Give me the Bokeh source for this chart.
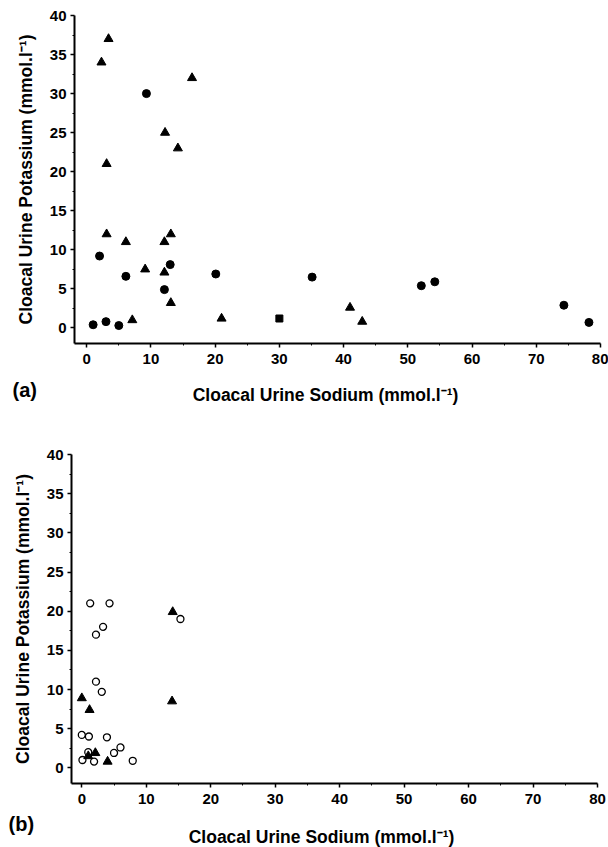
from bokeh.plotting import figure
from bokeh.layouts import column
from bokeh.models import Range1d, FixedTicker
from bokeh.core.properties import value
from bokeh.embed import file_html
from bokeh.resources import INLINE

# ---------------- data ----------------
# Panel (a)
a_circle_x = [9.3, 2.0, 13.0, 6.1, 20.1, 12.1, 1.0, 3.0, 5.0, 35.1, 52.1, 54.2, 74.3, 78.2]
a_circle_y = [30.0, 9.2, 8.1, 6.6, 6.9, 4.9, 0.4, 0.8, 0.3, 6.5, 5.4, 5.9, 2.9, 0.7]
a_tri_x = [3.4, 2.3, 16.4, 12.2, 14.2, 3.1, 3.1, 6.1, 12.1, 13.1, 9.1, 12.1, 13.1, 7.1, 21.0, 41.0, 42.9]
a_tri_y = [37.0, 34.0, 32.0, 25.0, 23.0, 21.0, 12.0, 11.0, 11.0, 12.0, 7.5, 7.1, 3.2, 1.0, 1.2, 2.6, 0.8]
a_square_x = [30.0]
a_square_y = [1.2]

# Panel (b)
b_open_x = [1.3, 4.3, 15.3, 3.3, 2.2, 2.2, 3.1, 0.0, 1.1, 3.9, 6.0, 5.0, 1.0, 0.1, 1.9, 7.9]
b_open_y = [21.0, 21.0, 19.0, 18.0, 17.0, 11.0, 9.7, 4.2, 4.0, 3.9, 2.6, 1.9, 2.0, 1.0, 0.8, 0.9]
b_tri_x = [14.1, 0.0, 1.2, 14.0, 1.0, 2.1, 4.0]
b_tri_y = [19.9, 8.9, 7.4, 8.5, 1.5, 1.9, 0.8]

x_ticks = [0, 10, 20, 30, 40, 50, 60, 70, 80]
y_ticks = [0, 5, 10, 15, 20, 25, 30, 35, 40]

x_title = "Cloacal Urine Sodium (mmol.l\u207b\u00b9)"
y_title = "Cloacal Urine Potassium (mmol.l\u207b\u00b9)"
panel_tags = ["(a)", "(b)"]

FONT = "Liberation Sans"
W = 608


def make_panel(height, left, right, top, bottom, x_start):
    p = figure(width=W, height=height, output_backend="svg", toolbar_location=None,
               x_range=Range1d(x_start, 80), y_range=Range1d(-2, 40),
               min_border_left=left, min_border_right=right,
               min_border_top=top, min_border_bottom=bottom)
    p.frame_align = False
    p.outline_line_color = None
    p.grid.visible = False
    p.background_fill_color = "white"
    p.border_fill_color = "white"
    for ax, ticks in ((p.xaxis[0], x_ticks), (p.yaxis[0], y_ticks)):
        step = ticks[1] - ticks[0]
        ax.ticker = FixedTicker(ticks=ticks, minor_ticks=[t + step / 2 for t in ticks[:-1]])
        ax.axis_line_width = 2
        ax.axis_line_color = "black"
        ax.major_tick_line_color = "black"
        ax.major_tick_line_width = 1.5
        ax.major_tick_out = 4
        ax.major_tick_in = 0
        ax.minor_tick_line_color = "black"
        ax.minor_tick_out = 2
        ax.minor_tick_in = 0
        ax.major_label_text_font = FONT
        ax.major_label_text_font_style = "bold"
        ax.major_label_text_font_size = "15px"
        ax.major_label_text_color = "black"
        ax.axis_label_text_font = FONT
        ax.axis_label_text_font_style = "bold"
        ax.axis_label_text_font_size = "17.5px"
        ax.axis_label_text_color = "black"
    p.yaxis.axis_label = y_title
    p.xaxis.major_label_standoff = 6
    p.yaxis.major_label_standoff = 4
    p.yaxis.axis_label_standoff = 11
    return p


def make_caption(height, tag, tag_x, tag_y, title_x, title_y):
    c = figure(width=W, height=height, output_backend="svg", toolbar_location=None,
               x_range=Range1d(0, W), y_range=Range1d(height, 0),
               x_axis_type=None, y_axis_type=None,
               min_border=0, min_border_left=0, min_border_right=0,
               min_border_top=0, min_border_bottom=0)
    c.frame_align = False
    c.outline_line_color = None
    c.grid.visible = False
    c.background_fill_color = "white"
    c.border_fill_color = "white"
    c.text(x=[tag_x], y=[tag_y], text=[tag], text_font=value(FONT), text_font_style="bold",
           text_font_size="20px", text_color="black", text_align="left", text_baseline="middle")
    c.text(x=[title_x], y=[title_y], text=[x_title], text_font=value(FONT), text_font_style="bold",
           text_font_size="17.5px", text_color="black", text_align="center", text_baseline="middle")
    return c


pa = make_panel(372, 74, 8, 15, 29, -1.9)
pa.scatter(a_circle_x, a_circle_y, marker="circle", size=8, color="black")
pa.scatter(a_tri_x, a_tri_y, marker="triangle", size=9, color="black")
pa.scatter(a_square_x, a_square_y, marker="square", size=7, color="black")
cap_a = make_caption(51, panel_tags[0], 12, 17, 325, 22)

pb = make_panel(388, 71, 11, 31, 28, -1.6)
pb.scatter(b_open_x, b_open_y, marker="circle", size=7, fill_color="white",
           line_color="black", line_width=1.3)
pb.scatter(b_tri_x, b_tri_y, marker="triangle", size=9, color="black")
cap_b = make_caption(36, panel_tags[1], 8, 12, 321, 25)

layout = column(pa, cap_a, pb, cap_b, spacing=0)
open("out.html", "w").write(file_html(layout, INLINE))
